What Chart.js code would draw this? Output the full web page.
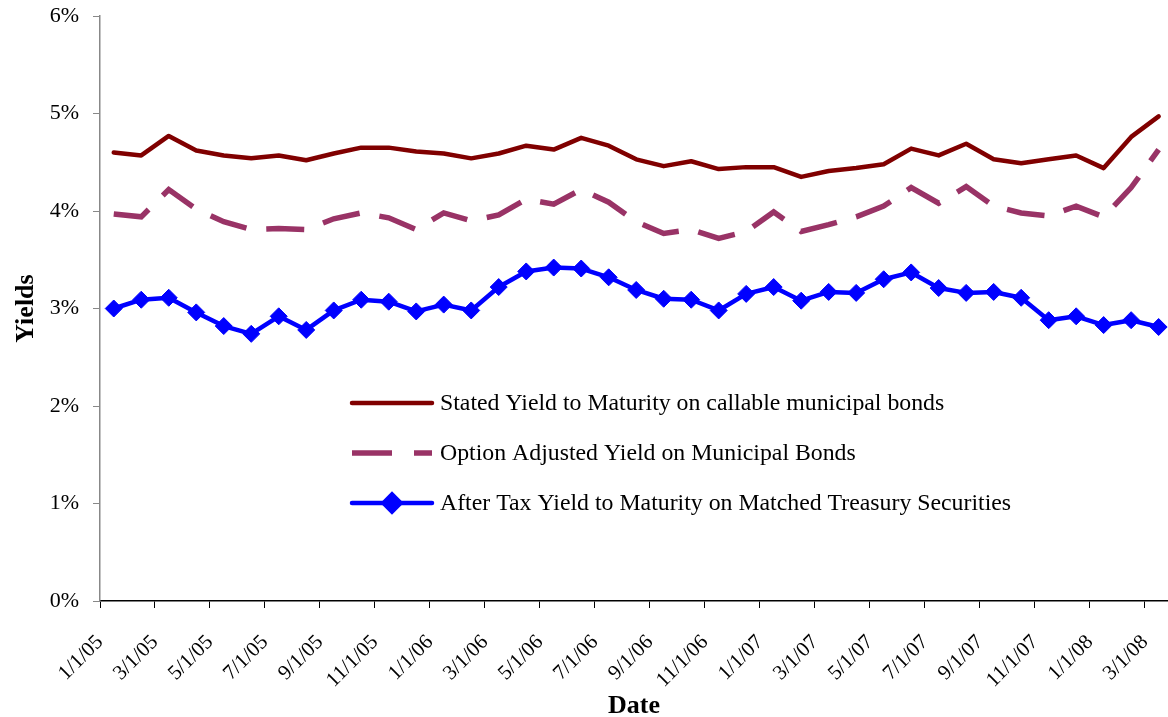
<!DOCTYPE html>
<html>
<head>
<meta charset="utf-8">
<script src="https://cdn.jsdelivr.net/npm/chart.js@4"></script>
<style>
    html, body { margin: 0; padding: 0; background: #fff; }
    #wrap { width: 1168px; height: 717px; }
</style>
</head>
<body>
<div id="wrap"><canvas id="yieldChart" width="1168" height="717"></canvas></div>
<script>
Chart.defaults.font.family = "'Liberation Serif', 'Times New Roman', serif";
Chart.defaults.color = "#000";

// Tick labels on the date axis (one every two months, starting 1/1/05)
const tickLabels = [
    "1/1/05", "3/1/05", "5/1/05", "7/1/05", "9/1/05", "11/1/05",
    "1/1/06", "3/1/06", "5/1/06", "7/1/06", "9/1/06", "11/1/06",
    "1/1/07", "3/1/07", "5/1/07", "7/1/07", "9/1/07", "11/1/07",
    "1/1/08", "3/1/08",
];

// Monthly observations, Jan 2005 .. Mar 2008 (mid-month), in %
const statedYield = [
    4.60, 4.57, 4.77, 4.62, 4.57, 4.54, 4.57, 4.52, 4.59, 4.65, 4.65, 4.61, 4.59,
    4.54, 4.59, 4.67, 4.63, 4.75, 4.67, 4.53, 4.46, 4.51, 4.43, 4.45, 4.45,
    4.35, 4.41, 4.44, 4.48, 4.64, 4.57, 4.69, 4.53, 4.49, 4.53, 4.57, 4.44, 4.76, 4.97,
];
const optionAdjusted = [
    3.97, 3.94, 4.22, 4.02, 3.89, 3.81, 3.82, 3.81, 3.92, 3.98, 3.93, 3.81, 3.98,
    3.90, 3.96, 4.12, 4.07, 4.22, 4.09, 3.89, 3.77, 3.81, 3.72, 3.79, 3.99,
    3.79, 3.86, 3.94, 4.05, 4.24, 4.08, 4.25, 4.05, 3.98, 3.95, 4.05, 3.94, 4.24, 4.63,
];
const afterTaxTreasury = [
    3.00, 3.09, 3.11, 2.96, 2.82, 2.74, 2.92, 2.78, 2.98, 3.09, 3.07, 2.97, 3.04,
    2.98, 3.22, 3.38, 3.42, 3.41, 3.32, 3.19, 3.10, 3.09, 2.98, 3.15, 3.22,
    3.08, 3.17, 3.16, 3.30, 3.37, 3.21, 3.16, 3.17, 3.11, 2.88, 2.92, 2.83, 2.88, 2.81,
];

const seriesNames = [
    "Stated Yield to Maturity on callable municipal bonds",
    "Option Adjusted Yield on Municipal Bonds",
    "After Tax Yield to Maturity on Matched Treasury Securities",
];

// x = months since 1/1/05, observations sit mid-month
const toPoints = (arr) => arr.map((v, i) => ({ x: i + 0.5, y: v }));

// Legend drawn inside the plot, like the original
const innerLegend = {
    id: "innerLegend",
    afterDraw(chart) {
        const ctx = chart.ctx;
        const area = chart.chartArea;
        const x0 = area.left + 252;
        const x1 = x0 + 80;
        chart.data.datasets.forEach((ds, i) => {
            const y = area.top + 387 + i * 50;
            ctx.save();
            ctx.strokeStyle = ds.borderColor;
            ctx.lineWidth = ds.borderWidth;
            ctx.lineCap = ds.borderDash ? "butt" : "round";
            ctx.setLineDash(ds.borderDash ? [40, 22] : []);
            ctx.beginPath();
            ctx.moveTo(x0, y);
            ctx.lineTo(x1, y);
            ctx.stroke();
            ctx.setLineDash([]);
            if (ds.pointRadius) {
                Chart.helpers.drawPoint(ctx, {
                    pointStyle: ds.pointStyle,
                    radius: ds.pointRadius,
                    borderWidth: 1,
                }, (x0 + x1) / 2, y);
                ctx.fillStyle = ds.pointBackgroundColor;
                ctx.fill();
            }
            ctx.fillStyle = "#000";
            ctx.font = "23.8px 'Liberation Serif', 'Times New Roman', serif";
            ctx.textBaseline = "middle";
            ctx.fillText(ds.label, x1 + 8, y + 1);
            ctx.restore();
        });
    },
};

const ctx = document.getElementById("yieldChart").getContext("2d");
new Chart(ctx, {
    type: "line",
    data: {
        datasets: [
            {
                label: seriesNames[0],
                data: toPoints(statedYield),
                borderColor: "#800000",
                borderWidth: 4.5,
                borderJoinStyle: "round",
                borderCapStyle: "round",
                pointRadius: 0,
                tension: 0,
            },
            {
                label: seriesNames[1],
                data: toPoints(optionAdjusted),
                borderColor: "#993366",
                borderWidth: 5.5,
                borderDash: [38, 20],
                pointRadius: 0,
                tension: 0,
            },
            {
                label: seriesNames[2],
                data: toPoints(afterTaxTreasury),
                borderColor: "#0000FF",
                borderWidth: 4.5,
                borderJoinStyle: "round",
                pointStyle: "rectRot",
                pointRadius: 8.5,
                pointBackgroundColor: "#0000FF",
                pointBorderColor: "#0000FF",
                pointBorderWidth: 1,
                tension: 0,
            },
        ],
    },
    options: {
        responsive: false,
        animation: false,
        devicePixelRatio: 1,
        layout: {
            autoPadding: false,
            padding: { top: 16, right: 0, bottom: 0, left: 0 },
        },
        plugins: {
            legend: { display: false },
            tooltip: { enabled: false },
        },
        scales: {
            x: {
                type: "linear",
                min: 0,
                max: 38.84,
                afterBuildTicks: (scale) => {
                    scale.ticks = tickLabels.map((_, i) => ({ value: i * 2 }));
                },
                afterFit: (scale) => {
                    scale.height = 116;
                    scale.paddingLeft = 0;
                    scale.paddingRight = 0;
                },
                ticks: {
                    autoSkip: false,
                    minRotation: 45,
                    maxRotation: 45,
                    padding: 22,
                    font: { size: 21 },
                    callback: (value) => tickLabels[Math.round(value / 2)],
                },
                grid: {
                    drawOnChartArea: false,
                    tickLength: 7,
                    color: "#000",
                },
                border: { color: "#000", width: 1.5 },
                title: {
                    display: true,
                    text: "Date",
                    font: { size: 26, weight: "bold", lineHeight: 0.85 },
                    padding: 0,
                },
            },
            y: {
                min: 0,
                max: 6,
                afterFit: (scale) => {
                    scale.width = 100;
                    scale.paddingTop = 0;
                    scale.paddingBottom = 0;
                },
                ticks: {
                    stepSize: 1,
                    padding: 14,
                    font: { size: 22 },
                    callback: (value) => value + "%",
                },
                grid: {
                    drawOnChartArea: false,
                    tickLength: 7,
                    color: "#888",
                },
                border: { color: "#888", width: 1.5 },
                title: {
                    display: true,
                    text: "Yields",
                    font: { size: 26, weight: "bold", lineHeight: 0.85 },
                    padding: { top: 15, bottom: 0 },
                },
            },
        },
    },
    plugins: [innerLegend],
});
</script>
</body>
</html>
